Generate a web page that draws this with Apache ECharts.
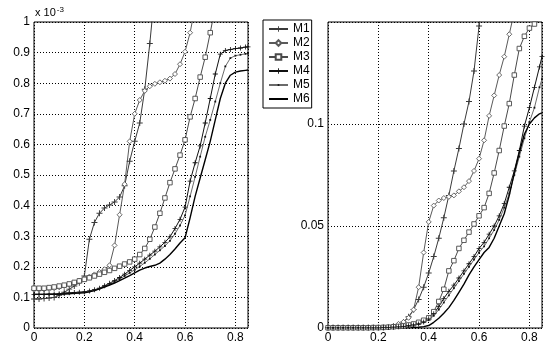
<!DOCTYPE html>
<html>
<head>
<meta charset="utf-8">
<script src="https://cdn.jsdelivr.net/npm/echarts@6/dist/echarts.min.js"></script>
<style>
html,body{margin:0;padding:0;background:#fff;}
#chart{width:550px;height:361px;}
</style>
</head>
<body>
<div id="chart"></div>
<script>
// x sample positions (shared by all curves)
const xs = [0,0.02,0.04,0.06,0.08,0.10,0.12,0.14,0.16,0.18,0.20,0.22,0.24,0.26,0.28,0.30,0.32,0.34,0.36,0.38,0.40,0.42,0.44,0.46,0.48,0.50,0.52,0.54,0.56,0.58,0.60,0.62,0.64,0.66,0.68,0.70,0.72,0.74,0.76,0.78,0.80,0.82,0.84,0.85];

const seriesNames = ['M1','M2','M3','M4','M5','M6'];

// Left panel (values in units of 1e-3)
const leftM1 = [0.095,0.095,0.096,0.098,0.100,0.107,0.117,0.127,0.137,0.148,0.170,0.290,0.345,0.375,0.392,0.402,0.412,0.428,0.465,0.545,0.610,0.670,0.780,0.930,1.100];
const leftM2 = [0.125,0.125,0.126,0.128,0.130,0.133,0.137,0.142,0.148,0.155,0.162,0.168,0.175,0.183,0.192,0.205,0.270,0.370,0.470,0.610,0.700,0.745,0.775,0.790,0.798,0.803,0.808,0.815,0.830,0.862,0.903,0.965,1.050];
const leftM3 = [0.130,0.130,0.130,0.132,0.134,0.137,0.140,0.144,0.149,0.154,0.159,0.164,0.170,0.176,0.182,0.188,0.195,0.202,0.209,0.216,0.225,0.240,0.260,0.290,0.330,0.375,0.425,0.475,0.520,0.565,0.615,0.690,0.750,0.820,0.885,0.965,1.050];
const leftM4 = [0.110,0.110,0.110,0.111,0.111,0.112,0.113,0.115,0.116,0.117,0.118,0.121,0.125,0.130,0.138,0.146,0.155,0.165,0.176,0.188,0.200,0.212,0.225,0.238,0.251,0.265,0.280,0.298,0.325,0.355,0.395,0.480,0.540,0.595,0.670,0.750,0.830,0.895,0.907,0.910,0.913,0.915,0.918,0.919];
const leftM5 = [0.110,0.110,0.110,0.110,0.111,0.111,0.112,0.113,0.114,0.115,0.117,0.119,0.123,0.128,0.135,0.143,0.151,0.160,0.170,0.180,0.190,0.201,0.213,0.226,0.240,0.254,0.268,0.285,0.308,0.335,0.368,0.430,0.494,0.560,0.625,0.680,0.740,0.800,0.855,0.882,0.890,0.893,0.896,0.897];
const leftM6 = [0.110,0.110,0.110,0.110,0.110,0.110,0.111,0.112,0.113,0.114,0.115,0.118,0.122,0.128,0.134,0.140,0.147,0.155,0.163,0.171,0.180,0.189,0.196,0.201,0.205,0.212,0.225,0.240,0.258,0.278,0.295,0.360,0.430,0.490,0.550,0.610,0.680,0.750,0.800,0.826,0.836,0.840,0.842,0.843];

// Right panel (absolute values)
const rightM1 = [0.0002,0.0002,0.0002,0.0002,0.0002,0.0002,0.0002,0.0002,0.0002,0.0002,0.0002,0.0003,0.0005,0.0008,0.0015,0.003,0.0055,0.009,0.014,0.020,0.027,0.035,0.044,0.054,0.065,0.077,0.088,0.100,0.111,0.126,0.148,0.170];
const rightM2 = [0.0002,0.0002,0.0002,0.0002,0.0002,0.0002,0.0002,0.0002,0.0002,0.0002,0.0002,0.0003,0.0006,0.001,0.002,0.003,0.005,0.009,0.020,0.037,0.052,0.060,0.0625,0.0637,0.0643,0.065,0.067,0.069,0.072,0.077,0.083,0.092,0.104,0.114,0.124,0.133,0.144,0.155];
const rightM3 = [0.0001,0.0001,0.0001,0.0001,0.0001,0.0001,0.0001,0.0001,0.0001,0.0002,0.0002,0.0003,0.0004,0.0006,0.0008,0.001,0.0015,0.002,0.0028,0.0038,0.005,0.008,0.013,0.019,0.028,0.033,0.039,0.043,0.047,0.051,0.055,0.059,0.066,0.076,0.087,0.099,0.110,0.124,0.137,0.143,0.147,0.149,0.151,0.152];
const rightM4 = [0.0001,0.0001,0.0001,0.0001,0.0001,0.0001,0.0001,0.0001,0.0001,0.0001,0.0001,0.0002,0.0003,0.0004,0.0006,0.0008,0.0011,0.0015,0.002,0.003,0.0045,0.007,0.0105,0.0145,0.018,0.021,0.0245,0.028,0.0315,0.035,0.039,0.042,0.046,0.050,0.055,0.061,0.069,0.077,0.087,0.099,0.108,0.118,0.128,0.133];
const rightM5 = [0.0001,0.0001,0.0001,0.0001,0.0001,0.0001,0.0001,0.0001,0.0001,0.0001,0.0001,0.0002,0.0002,0.0003,0.0005,0.0007,0.001,0.0014,0.002,0.0028,0.004,0.006,0.009,0.0125,0.016,0.0195,0.023,0.0265,0.030,0.0335,0.037,0.040,0.044,0.048,0.053,0.059,0.066,0.075,0.084,0.093,0.101,0.108,0.118,0.122];
const rightM6 = [0.0001,0.0001,0.0001,0.0001,0.0001,0.0001,0.0001,0.0001,0.0001,0.0001,0.0001,0.0001,0.0001,0.0001,0.0001,0.0001,0.0002,0.0003,0.0004,0.0007,0.0012,0.0028,0.0048,0.0072,0.010,0.0135,0.0175,0.0215,0.026,0.030,0.0335,0.037,0.0395,0.044,0.050,0.056,0.065,0.076,0.086,0.095,0.100,0.103,0.105,0.1055];

const leftTicksY = [0,0.1,0.2,0.3,0.4,0.5,0.6,0.7,0.8,0.9,1];
const rightTicksY = [0,0.05,0.1];
const ticksX = [0,0.2,0.4,0.6,0.8];

const leftData = [leftM1,leftM2,leftM3,leftM4,leftM5,leftM6];
const rightData = [rightM1,rightM2,rightM3,rightM4,rightM5,rightM6];

const PLUS = 'path://M0,4.2h10v1.6h-10z M4.2,0h1.6v10h-1.6z';
const DOT = 'path://M0,0 M10,10 M3.5,3.5h3v3h-3z';
const styles = [
  {color:'#3a3a3a', symbol:PLUS, size:6, fill:'#3a3a3a', width:1},
  {color:'#5a5a5a', symbol:'diamond', size:5, fill:'#fff', width:1},
  {color:'#4a4a4a', symbol:'rect', size:4.5, fill:'#fff', width:1},
  {color:'#111111', symbol:PLUS, size:5, fill:'#111', width:1},
  {color:'#6a6a6a', symbol:DOT, size:6, fill:'#111', width:1},
  {color:'#000000', symbol:'none', size:0, fill:'#000', width:1.4}
];

function toPairs(arr){ return arr.map((v,i)=>[xs[i], v]); }

const series = [];
[leftData, rightData].forEach((dataSet, panel) => {
  dataSet.forEach((arr, k) => {
    const s = styles[k];
    series.push({
      name: seriesNames[k],
      type: 'line',
      xAxisIndex: panel,
      yAxisIndex: panel,
      data: toPairs(arr),
      symbol: s.symbol,
      symbolSize: s.size,
      showSymbol: s.symbol !== 'none',
      clip: true,
      animation: false,
      lineStyle: {color: s.color, width: s.width},
      itemStyle: {color: s.fill, borderColor: s.color, borderWidth: (s.symbol==='diamond'||s.symbol==='rect') ? 0.9 : 0},
      emphasis: {disabled: true}
    });
  });
});

const FONT = 'Liberation Sans, Arial, sans-serif';
const splitStyle = {show:true, lineStyle:{color:'#000', type:[1,2], width:1}};

function xAxis(idx){
  return {
    type:'value', gridIndex:idx, min:0, max:0.85, interval:0.2,
    axisLine:{show:false}, axisTick:{show:false},
    splitLine: splitStyle,
    axisLabel:{showMaxLabel:false, margin:4, color:'#000', fontFamily:FONT, fontSize:12,
      formatter: v => ticksX.some(t => Math.abs(t - v) < 1e-9) ? String(+v.toFixed(2)) : ''}
  };
}

const option = {
  backgroundColor:'#fff',
  animation:false,
  grid:[
    {left:34, top:22, width:214, height:306, show:true, borderColor:'#000', borderWidth:1, backgroundColor:'transparent'},
    {left:328, top:22, width:214, height:306, show:true, borderColor:'#000', borderWidth:1, backgroundColor:'transparent'}
  ],
  xAxis:[xAxis(0), xAxis(1)],
  yAxis:[
    {type:'value', gridIndex:0, min:0, max:1, interval:0.1,
     axisLine:{show:false}, axisTick:{show:false}, splitLine:splitStyle,
     axisLabel:{margin:4, color:'#000', fontFamily:FONT, fontSize:12,
       formatter: v => leftTicksY.some(t => Math.abs(t - v) < 1e-9) ? String(+v.toFixed(2)) : ''}},
    {type:'value', gridIndex:1, min:0, max:0.15, interval:0.05,
     axisLine:{show:false}, axisTick:{show:false}, splitLine:splitStyle,
     axisLabel:{showMaxLabel:false, margin:4, color:'#000', fontFamily:FONT, fontSize:12,
       formatter: v => rightTicksY.some(t => Math.abs(t - v) < 1e-9) ? String(+v.toFixed(2)) : ''}}
  ],
  legend:{
    data: seriesNames.map((n,k) => k === 5 ? {name:n, itemStyle:{opacity:0}} : {name:n}),
    orient:'vertical', left:263, top:20,
    backgroundColor:'#fff', borderColor:'#000', borderWidth:1,
    padding:[3,2,3,5], itemGap:2, itemWidth:19, itemHeight:7,
    selectedMode:false,
    textStyle:{color:'#000', fontFamily:FONT, fontSize:12, lineHeight:12}
  },
  graphic:[
    {type:'text', left:35, top:6, style:{
      text:'{a|x 10}{b|-3}',
      rich:{
        a:{fontFamily:FONT, fontSize:11, fill:'#000', padding:[5,0,0,0]},
        b:{fontFamily:FONT, fontSize:8, fill:'#000', padding:[0,0,0,1]}
      }
    }}
  ],
  series: series
};

const chart = echarts.init(document.getElementById('chart'), null, {renderer:'canvas'});
chart.setOption(option);
</script>
</body>
</html>
